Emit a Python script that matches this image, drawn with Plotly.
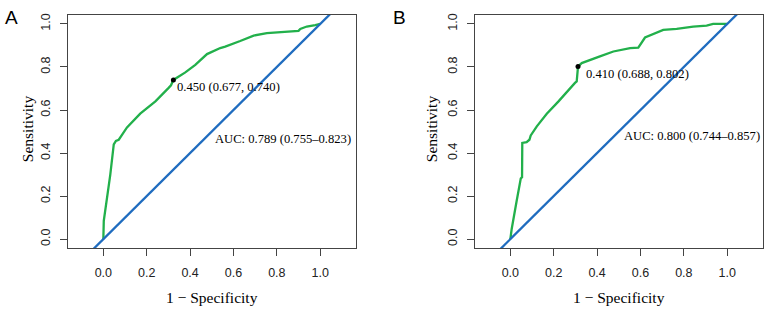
import plotly.graph_objects as go

# Panel A ROC curve (1 - specificity, sensitivity)
fpr_a = [0, 0.002, 0.032, 0.048, 0.058, 0.071, 0.086, 0.109, 0.17, 0.24, 0.301, 0.312, 0.323,
         0.378, 0.424, 0.478, 0.539, 0.562, 0.631, 0.693, 0.754, 0.831, 0.90, 0.908, 0.938, 0.977, 1.0]
tpr_a = [0, 0.085, 0.30, 0.44, 0.457, 0.462, 0.485, 0.519, 0.583, 0.64, 0.703, 0.715, 0.74,
         0.775, 0.81, 0.86, 0.888, 0.895, 0.921, 0.946, 0.957, 0.964, 0.968, 0.977, 0.988, 0.995, 1.0]
best_a = (1 - 0.677, 0.740)
label_a = "0.450 (0.677, 0.740)"
auc_a = "AUC: 0.789 (0.755–0.823)"

# Panel B ROC curve
fpr_b = [0, 0.006, 0.029, 0.042, 0.048, 0.054, 0.055, 0.075, 0.088, 0.094, 0.122, 0.168, 0.221,
         0.298, 0.306, 0.312, 0.329, 0.413, 0.475, 0.552, 0.59, 0.621, 0.659, 0.705, 0.767, 0.843,
         0.905, 0.935, 1.0]
tpr_b = [0, 0.046, 0.177, 0.242, 0.282, 0.288, 0.447, 0.451, 0.462, 0.482, 0.524, 0.583, 0.639,
         0.726, 0.733, 0.802, 0.818, 0.849, 0.872, 0.888, 0.890, 0.937, 0.952, 0.972, 0.977, 0.988,
         0.992, 1.0, 1.0]
best_b = (1 - 0.688, 0.802)
label_b = "0.410 (0.688, 0.802)"
auc_b = "AUC: 0.800 (0.744–0.857)"

tick_vals = [0.0, 0.2, 0.4, 0.6, 0.8, 1.0]
tick_text = ["0.0", "0.2", "0.4", "0.6", "0.8", "1.0"]

GREEN = "#22b04b"
BLUE = "#1f6cbf"
AXC = "#444444"
SERIF = "Liberation Serif, Times New Roman, serif"
SANS = "Liberation Sans, Arial, sans-serif"

W, H = 767, 310
fig = go.Figure()

panels = [
    ("x", "y", fpr_a, tpr_a, best_a, label_a, auc_a, (0.332, 0.709), (0.507, 0.464)),
    ("x2", "y2", fpr_b, tpr_b, best_b, label_b, auc_b, (0.340, 0.766), (0.516, 0.478)),
]
for xr, yr, fx, ty, best, lab, auc, lpos, apos in panels:
    fig.add_trace(go.Scatter(x=fx, y=ty, mode="lines", line=dict(color=GREEN, width=2.3),
                             xaxis=xr, yaxis=yr, showlegend=False, hoverinfo="skip"))
    fig.add_trace(go.Scatter(x=[-0.5, 1.5], y=[-0.5, 1.5], mode="lines",
                             line=dict(color=BLUE, width=2.3),
                             xaxis=xr, yaxis=yr, showlegend=False, hoverinfo="skip"))
    fig.add_trace(go.Scatter(x=[best[0]], y=[best[1]], mode="markers",
                             marker=dict(color="black", size=5),
                             xaxis=xr, yaxis=yr, showlegend=False, hoverinfo="skip"))
    fig.add_annotation(x=lpos[0], y=lpos[1], xref=xr, yref=yr, text=lab, showarrow=False,
                       xanchor="left", yanchor="middle", font=dict(family=SERIF, size=12.6, color="black"))
    fig.add_annotation(x=apos[0], y=apos[1], xref=xr, yref=yr, text=auc, showarrow=False,
                       xanchor="left", yanchor="middle", font=dict(family=SERIF, size=12.6, color="black"))

axis_common = dict(
    showgrid=False, zeroline=False, showline=True, linecolor=AXC, linewidth=1, mirror=True,
    ticks="outside", ticklen=7, tickcolor=AXC, tickwidth=1,
    tickvals=tick_vals, ticktext=tick_text,
    tickfont=dict(family=SANS, size=12.5, color="#222222"),
)
xr_ = [-0.163, 1.165]
yr_ = [-0.043, 1.042]
fig.update_layout(
    width=W, height=H, margin=dict(l=0, r=0, t=0, b=0),
    paper_bgcolor="white", plot_bgcolor="white",
    xaxis=dict(domain=[68 / W, 356 / W], range=xr_, anchor="y", ticklabelstandoff=6, **axis_common),
    yaxis=dict(domain=[(H - 248) / H, (H - 13) / H], range=yr_, anchor="x", tickangle=-90,
               ticklabelstandoff=5, **axis_common),
    xaxis2=dict(domain=[475 / W, 763 / W], range=xr_, anchor="y2", ticklabelstandoff=6, **axis_common),
    yaxis2=dict(domain=[(H - 248) / H, (H - 13) / H], range=yr_, anchor="x2", tickangle=-90,
                ticklabelstandoff=5, **axis_common),
)

# Axis titles and panel letters
for cx, ycx in [(212, 27), (619, 431)]:
    fig.add_annotation(x=cx / W, y=(H - 297) / H, xref="paper", yref="paper", text="1 − Specificity",
                       showarrow=False, xanchor="center", yanchor="middle",
                       font=dict(family=SERIF, size=15.5, color="black"))
    fig.add_annotation(x=ycx / W, y=(H - 128) / H, xref="paper", yref="paper", text="Sensitivity",
                       showarrow=False, textangle=-90, xanchor="center", yanchor="middle",
                       font=dict(family=SERIF, size=15.5, color="black"))
for txt, px in [("A", 11), ("B", 399)]:
    fig.add_annotation(x=px / W, y=(H - 16) / H, xref="paper", yref="paper", text=txt,
                       showarrow=False, xanchor="center", yanchor="middle",
                       font=dict(family=SANS, size=19, color="black"))

fig.write_html("out.html")
